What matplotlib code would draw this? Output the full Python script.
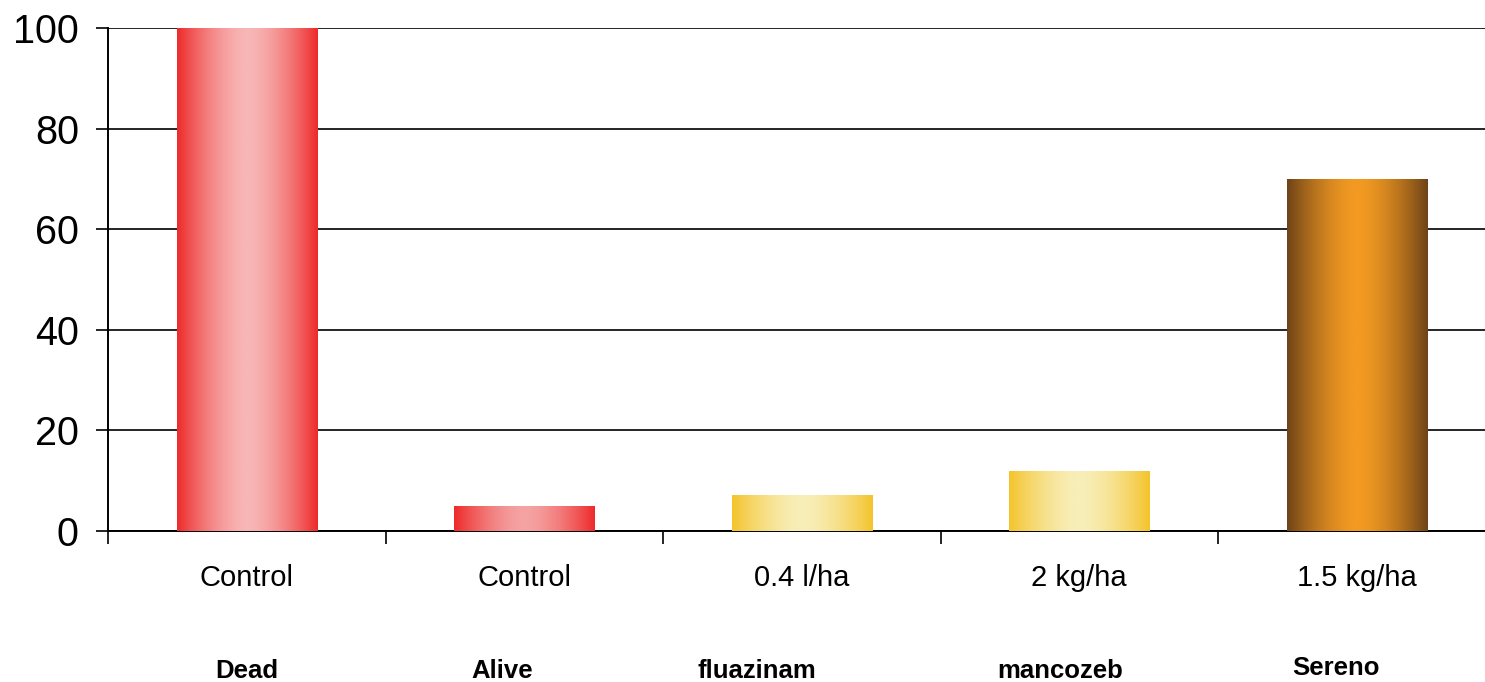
import matplotlib.pyplot as plt
import numpy as np
from matplotlib.colors import LinearSegmentedColormap

plt.rcParams['font.family'] = ['Liberation Sans', 'DejaVu Sans']

# data
doses = ['Control', 'Control', '0.4 l/ha', '2 kg/ha', '1.5 kg/ha']
treatments = ['Dead', 'Alive', 'fluazinam', 'mancozeb', 'Sereno']
values = [100, 5, 7.2, 12, 70]
# (edge colour, centre colour) of each bar's horizontal gradient
edge_colors = ['#ee2a2a', '#ee2a2a', '#f4c42c', '#f4c42c', '#6e4318']
centre_colors = ['#f8b6b6', '#f5a3a3', '#f8eeb8', '#f8eeb8', '#f39a22']
# where the bold names sit relative to the category centre (as in the original)
name_shift = [0.0, -0.08, -0.16, -0.07, -0.075]

fig = plt.figure(figsize=(14.85, 6.82), dpi=100)
ax = fig.add_axes([108/1485, 151/682, 1387.5/1485, 503/682])

x = np.arange(len(values))
bars = ax.bar(x, values, width=0.505, facecolor='none', edgecolor='none', zorder=3)

# horizontal gradient: edge -> centre -> edge
u = np.linspace(-1, 1, 256)
prof = 1 - np.abs(u) ** 1.6
for bar, c0, c1 in zip(bars, edge_colors, centre_colors):
    cmap = LinearSegmentedColormap.from_list('g', [c0, c1])
    bx, bw, bh = bar.get_x(), bar.get_width(), bar.get_height()
    im = ax.imshow(prof[np.newaxis, :], cmap=cmap, vmin=0, vmax=1,
                   extent=[bx, bx + bw, 0, bh], aspect='auto', zorder=3,
                   interpolation='bicubic')
    im.set_clip_path(bar)

ax.set_xlim(-0.5, len(values) - 0.5)
ax.set_ylim(0, 100)
ax.set_yticks([0, 20, 40, 60, 80, 100])
ax.tick_params(axis='y', labelsize=28.5, length=9, width=1.2, direction='out', pad=12)
ax.yaxis.grid(True, color='black', linewidth=1.2)
ax.set_axisbelow(True)

# ticks at the category boundaries
ax.set_xticks(np.arange(-0.5, len(values)))
ax.set_xticklabels([])
ax.tick_params(axis='x', length=9, width=1.2, direction='out')

for s in ['top', 'right']:
    ax.spines[s].set_visible(False)
for s in ['left', 'bottom']:
    ax.spines[s].set_linewidth(1.4)

for i, (d, t) in enumerate(zip(doses, treatments)):
    ax.text(i, -9.4, d, ha='center', va='center', fontsize=21)
    yy = -27.8 if t != 'Sereno' else -27.2
    ax.text(i + name_shift[i], yy, t, ha='center', va='center', fontsize=18.5,
            fontweight='bold')

fig.savefig('out.png', dpi=100)
